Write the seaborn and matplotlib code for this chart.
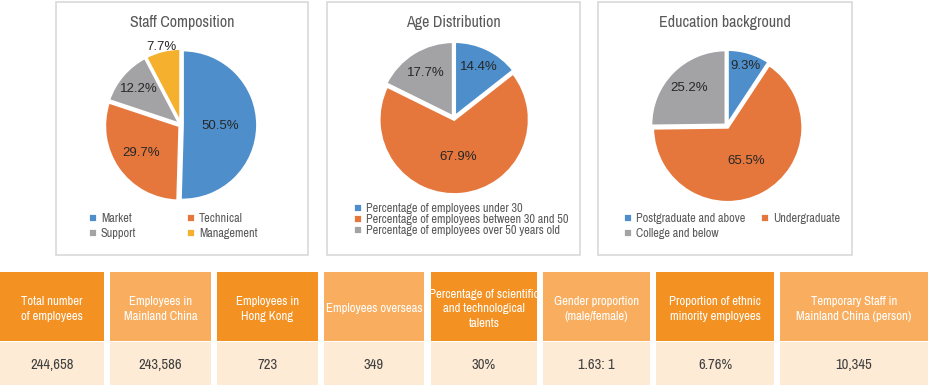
import matplotlib
matplotlib.use('Agg')
import matplotlib.pyplot as plt
import seaborn as sns
from matplotlib.patches import Rectangle

# pie data
staff_labels = ['Market', 'Technical', 'Support', 'Management']
staff_values = [50.5, 29.7, 12.2, 7.7]
age_labels = ['Percentage of employees under 30',
              'Percentage of employees between 30 and 50',
              'Percentage of employees over 50 years old']
age_values = [14.4, 67.9, 17.7]
edu_labels = ['Postgraduate and above', 'Undergraduate', 'College and below']
edu_values = [9.3, 65.5, 25.2]

# table data
table_headers = ['Total number\nof employees', 'Employees in\nMainland China', 'Employees in\nHong Kong',
                 'Employees overseas', 'Percentage of scientific\nand technological\ntalents',
                 'Gender proportion\n(male/female)', 'Proportion of ethnic\nminority employees',
                 'Temporary Staff in\nMainland China (person)']
table_values = ['244,658', '243,586', '723', '349', '30%', '1.63: 1', '6.76%', '10,345']

sns.set_theme(style='white')
NARROW = ['Archivo Narrow', 'Roboto Condensed', 'DejaVu Sans']
plt.rcParams['font.family'] = NARROW

W, H = 930, 385
palette = ['#4E8FCB', '#E5773D', '#A3A3A5', '#F5B02E']
title_color = '#595959'

fig = plt.figure(figsize=(W / 100, H / 100), dpi=100)


def fbox(x0, y0, x1, y1):
    # pixel box (top-left origin) -> figure fraction rect
    return [x0 / W, 1 - y1 / H, (x1 - x0) / W, (y1 - y0) / H]


def draw_panel(box, center, title, labels, values, dists, legend_order, legend_kw):
    x0, x1 = box
    fig.patches.append(Rectangle((x0 / W, 1 - 255 / H), (x1 - x0) / W, 253 / H,
                                 transform=fig.transFigure, fill=False,
                                 edgecolor='#D9D9D9', linewidth=1.2))
    fig.text((x0 + x1) / 2 / W, 1 - 22 / H, title, ha='center', va='center',
             fontsize=11.5, color=title_color)
    cx, cy = center
    r = 75
    ax = fig.add_axes(fbox(cx - r, cy - r, cx + r, cy + r))
    wedges, _, autotexts = ax.pie(values, colors=palette[:len(values)], startangle=90,
                                  counterclock=False, autopct='%.1f%%', pctdistance=0.6,
                                  explode=[0.02] * len(values),
                                  wedgeprops=dict(edgecolor='white', linewidth=2),
                                  textprops=dict(fontsize=9.5, color='#262626',
                                                 family=['Liberation Sans', 'DejaVu Sans']))
    for t, v, d in zip(autotexts, values, dists):
        t.set_text(f'{v}%')
        px, py = t.get_position()
        s = d / 0.6
        t.set_position((px * s, py * s))
    for w in wedges:
        w.set_clip_on(False)
    ax.set_xlim(-1, 1)
    ax.set_ylim(-1, 1)
    ax.legend([wedges[i] for i in legend_order], [labels[i] for i in legend_order],
              frameon=False, fontsize=8.8, labelcolor=title_color,
              handlelength=0.75, handleheight=0.75, handletextpad=0.3,
              borderpad=0, borderaxespad=0,
              bbox_transform=fig.transFigure, **legend_kw)


draw_panel((56, 308), (181, 125), 'Staff Composition', staff_labels, staff_values,
           [0.5, 0.63, 0.72, 1.04], [0, 2, 1, 3],
           dict(ncol=2, columnspacing=4.1, labelspacing=0.3, loc='upper left',
                bbox_to_anchor=(88 / W, 1 - 213 / H)))
draw_panel((327, 580), (454, 118), 'Age Distribution', age_labels, age_values,
           [0.73, 0.5, 0.69], [0, 1, 2],
           dict(ncol=1, labelspacing=0.0, loc='upper left',
                bbox_to_anchor=(353 / W, 1 - 203 / H)))
draw_panel((598, 852), (727, 126), 'Education background', edu_labels, edu_values,
           [0.81, 0.52, 0.69], [0, 2, 1],
           dict(ncol=2, columnspacing=1.2, labelspacing=0.3, loc='upper left',
                bbox_to_anchor=(623 / W, 1 - 213 / H)))

# table of key figures
col_left = [0, 110, 217, 324, 431, 543, 656, 780]
col_right = [104, 211, 318, 424, 537, 650, 774, 928]
tax = fig.add_axes(fbox(0, 272, W, H))
tax.set_xlim(0, W)
tax.set_ylim(0, 113)
tax.invert_yaxis()
tax.axis('off')
head_colors = ['#F39122' if i % 2 == 0 else '#F9AE5F' for i in range(len(table_headers))]
widths = [r - l for l, r in zip(col_left, col_right)]
tax.bar(col_left, 69, width=widths, bottom=0, align='edge', color=head_colors, linewidth=0)
tax.bar(col_left, 44, width=widths, bottom=70, align='edge', color='#FDEBD5', linewidth=0)
for l, r, head, val in zip(col_left, col_right, table_headers, table_values):
    tax.text((l + r) / 2, 37, head, ha='center', va='center', color='white',
             fontsize=9.2, linespacing=1.35)
    tax.text((l + r) / 2, 93, val, ha='center', va='center', color='#404040', fontsize=10.5)

fig.savefig('out.png', dpi=100)
